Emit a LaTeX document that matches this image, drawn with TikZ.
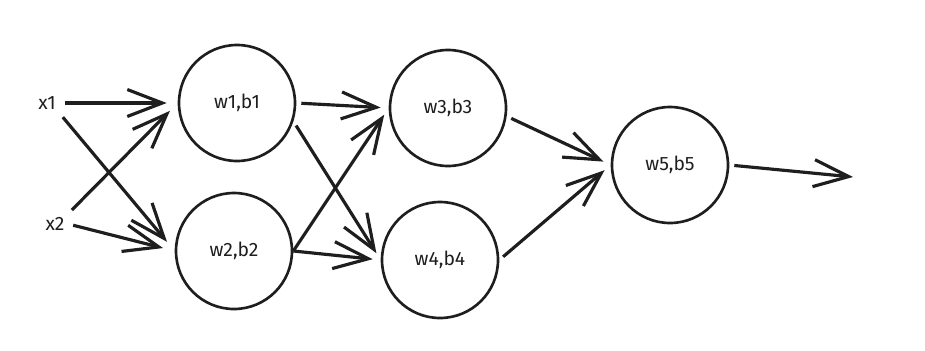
\documentclass[tikz,border=0pt]{standalone}
\usepackage{fontspec}
\setmainfont{Fira Sans}
\usetikzlibrary{arrows.meta,positioning}
\definecolor{ink}{HTML}{1E1E1E}
\tikzset{
  >={Straight Barb[length=7mm,width=5.4mm,line width=1.8pt]},
  every node/.style={font=\fontsize{11}{13}\selectfont,text=ink},
  neuron/.style={draw=ink,circle,line width=1.5pt,minimum size=23.2mm,inner sep=0pt},
  inlabel/.style={inner sep=2pt},
  arrow/.style={->,line width=1.8pt,draw=ink,shorten >=1.6mm,shorten <=1mm},
}
\begin{document}
\begin{tikzpicture}
\useasboundingbox (0,0) rectangle (18.5,7);

% inputs
\node[inlabel] (x1) at (0.94,4.94) {x1};
\node[inlabel] (x2) at (1.10,2.52) {x2};

% neurons
\node[neuron] (w1) at (4.74,4.94) {w1,b1};
\node[neuron] (w2) at (4.68,1.98) {w2,b2};
\node[neuron] (w3) at (8.96,4.84) {w3,b3};
\node[neuron] (w4) at (8.80,1.80) {w4,b4};
\node[neuron] (w5) at (13.40,3.70) {w5,b5};
\coordinate (out) at (17.06,3.46);

\draw[arrow,shorten >=2.2mm] (x1.east) -- (w1.west);
\draw[arrow,shorten >=2.4mm] (x1.south east) -- (w2.west);
\draw[arrow,shorten >=2.2mm] (x2.north east) -- (w1.west);
\draw[arrow,shorten >=2.4mm] (x2.east) -- (w2.west);
\draw[arrow] (w1.east) -- (w3.west);
\draw[arrow] (w1.-18) -- (w4.west);
\draw[arrow,shorten <=0pt] (w2.east) -- (w3.west);
\draw[arrow,shorten <=0pt] (w2.east) -- (w4.west);
\draw[arrow] (w3.-8) -- (w5.west);
\draw[arrow] (w4.east) -- (w5.west);
\draw[arrow,shorten >=0pt] (w5.east) -- (out);

\end{tikzpicture}
\end{document}
